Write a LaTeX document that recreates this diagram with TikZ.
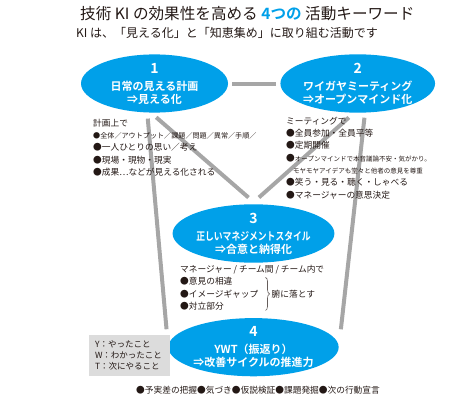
\documentclass[tikz,border=0pt]{standalone}
\usepackage{fontspec}
\setmainfont{Noto Sans CJK JP}[BoldFont={Noto Sans CJK JP Bold}]
\usetikzlibrary{positioning,shapes.geometric,decorations.pathreplacing}
\definecolor{kiblue}{HTML}{00A0E9}
\definecolor{kigray}{HTML}{A6A6A6}
\definecolor{boxgray}{HTML}{DCDCDC}
\definecolor{ink}{HTML}{231815}

\begin{document}
\begin{tikzpicture}[
x=1pt, y=1pt,
key/.style={ellipse, fill=kiblue, text=white, minimum width=147pt, minimum height=57pt, inner sep=0pt, align=center, font=\bfseries\fontsize{11}{13}\selectfont},
link/.style={draw=kigray, line width=4pt},
note/.style={inner sep=0pt, align=left, text=ink, font=\fontsize{8.7}{12.3}\selectfont},
memo/.style={fill=boxgray, inner sep=6pt, text width=69pt, minimum height=41pt, align=left, text=ink, font=\fontsize{8.5}{11}\selectfont}
]
\useasboundingbox (0,0) rectangle (450,400);

% title
\node[anchor=west, inner sep=0pt, text=ink, font=\fontsize{15.6}{18}\selectfont] (title) at (80,386) {技術 KI の効果性を高める {\color{kiblue}\bfseries 4つの} 活動キーワード};
\node[anchor=west, inner sep=0pt, text=ink, font=\fontsize{12}{14}\selectfont] (subtitle) at (76,367) {KI は、「見える化」と「知恵集め」に取り組む活動です};

% keywords
\node[key] (e1) at (154.5,316.5) {{\fontsize{14}{16}\selectfont 1}\\[4pt]日常の見える計画\\⇒見える化};
\node[key, right=52pt of e1] (e2) {{\fontsize{14}{16}\selectfont 2}\\[4pt]ワイガヤミーティング\\⇒オープンマインド化};
\node[key] (e3) at (253.5,166.5) {{\fontsize{14}{16}\selectfont 3}\\[4pt]\scalebox{0.8}[1]{正しいマネジメントスタイル}\\⇒合意と納得化};
\node[key, below=55pt of e3] (e4) {{\fontsize{14}{16}\selectfont 4}\\[4pt]YWT（振返り）\\⇒改善サイクルの推進力};

\draw[link, shorten <=4pt, shorten >=4pt] (e1) -- (e2);
\draw[link, shorten <=7pt, shorten >=10pt] (e1.-97) -- (e3.85);
\draw[link, shorten <=7pt, shorten >=10pt] (e2.-97) -- (e3.94);
\draw[link, shorten <=6pt, shorten >=18pt] (e1.-104) -- (e4.west);
\draw[link, shorten <=5pt, shorten >=18pt] (e2.-76) -- (e4.east);

% notes
\node[note, anchor=north west] (plannote) at (93,281.3) {計画上で\\{\fontsize{7.1}{12.3}\selectfont ●全体／アウトプット／課題／問題／異常／手順／}\\●一人ひとりの思い／考え\\●現場・現物・現実\\●成果…などが見える化される};
\node[note, anchor=north west] (meetnote) at (286,283.3) {ミーティングで\\●全員参加・全員平等\\●定期開催\\●{\fontsize{6.5}{12.3}\selectfont オープンマインドで本音議論不安・気がかり。}\\{\fontsize{6.5}{12.3}\selectfont\hspace*{7pt}モヤモヤアイデアも堂々と他者の意見を尊重}\\●笑う・見る・聴く・しゃべる\\●マネージャーの意思決定};

\node[note, anchor=north west] (mgrhead) at (180,135.3) {マネージャー / チーム間 / チーム内で};
\node[note, below right=3.4pt and 0pt of mgrhead.south west] (mgrlist) {●意見の相違\\●イメージギャップ\\●対立部分};
\draw[draw=ink!70, line width=0.6pt, decorate, decoration={brace, amplitude=4pt}]
  ([xshift=7pt]mgrlist.north east) -- ([xshift=7pt]mgrlist.south east) coordinate[midway] (bracemid);
\node[note, right=6pt of bracemid] (settle) {腑に落とす};

\node[memo] (ywt) at (129.5,44.5) {Y：やったこと\\W：わかったこと\\T：次にやること};
\node[note] (steps) at (258,10) {●予実差の把握●気づき●仮説検証●課題発掘●次の行動宣言};
\end{tikzpicture}
\end{document}
